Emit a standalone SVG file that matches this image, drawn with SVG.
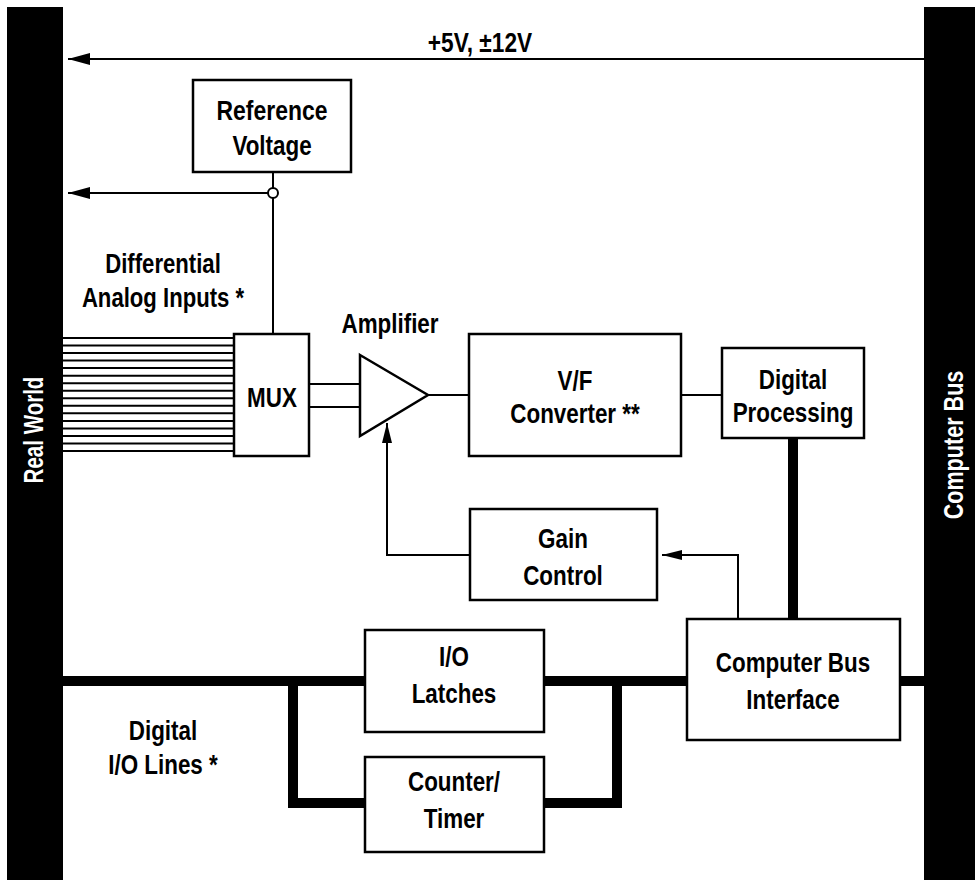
<svg xmlns="http://www.w3.org/2000/svg" width="975" height="880" viewBox="0 0 975 880">
<defs>
<style>
.box{fill:#fff;stroke:#000;stroke-width:2.5}
.thin{fill:none;stroke:#000;stroke-width:2}
.bus{fill:none;stroke:#000;stroke-width:10;stroke-linejoin:miter}
.t{font-family:"Liberation Sans Narrow","Liberation Sans",Arial,sans-serif;font-weight:bold;font-size:27px;text-anchor:middle;fill:#000}
.w{fill:#fff}
</style>
<marker id="arr" viewBox="0 0 22 12" markerUnits="userSpaceOnUse" markerWidth="22" markerHeight="12" refX="22" refY="6" orient="auto">
<path d="M0,0 L22,6 L0,12 z" fill="#000"/>
</marker>
<marker id="arrs" viewBox="0 0 20 10" markerUnits="userSpaceOnUse" markerWidth="20" markerHeight="10" refX="20" refY="5" orient="auto">
<path d="M0,0 L20,5 L0,10 z" fill="#000"/>
</marker>
</defs>
<rect width="975" height="880" fill="#fff"/>

<g id="real-world">
<rect x="7" y="7" width="56" height="873" fill="#000"/>
<text class="t w" transform="translate(43,430) rotate(-90) scale(.76,1)">Real World</text>
</g>
<g id="computer-bus">
<rect x="924" y="7" width="51" height="873" fill="#000"/>
<text class="t w" transform="translate(963,445) rotate(-90) scale(.8,1)">Computer Bus</text>
</g>

<g id="connectors">
<line class="thin" x1="924" y1="59" x2="68" y2="59" marker-end="url(#arr)"/>
<line class="thin" x1="268" y1="193" x2="68" y2="193" marker-end="url(#arr)"/>
<line class="thin" x1="273" y1="172" x2="273" y2="334"/>
<circle cx="273" cy="193" r="5" fill="#fff" stroke="#000" stroke-width="2"/>
<g class="thin">
<line x1="63" y1="338" x2="234" y2="338"/>
<line x1="63" y1="345.5" x2="234" y2="345.5"/>
<line x1="63" y1="353" x2="234" y2="353"/>
<line x1="63" y1="360.6" x2="234" y2="360.6"/>
<line x1="63" y1="368.1" x2="234" y2="368.1"/>
<line x1="63" y1="375.7" x2="234" y2="375.7"/>
<line x1="63" y1="383.2" x2="234" y2="383.2"/>
<line x1="63" y1="390.7" x2="234" y2="390.7"/>
<line x1="63" y1="398.3" x2="234" y2="398.3"/>
<line x1="63" y1="405.8" x2="234" y2="405.8"/>
<line x1="63" y1="413.3" x2="234" y2="413.3"/>
<line x1="63" y1="420.9" x2="234" y2="420.9"/>
<line x1="63" y1="428.4" x2="234" y2="428.4"/>
<line x1="63" y1="435.9" x2="234" y2="435.9"/>
<line x1="63" y1="443.5" x2="234" y2="443.5"/>
<line x1="63" y1="451" x2="234" y2="451"/>
</g>
<line class="thin" x1="309" y1="384" x2="360" y2="384"/>
<line class="thin" x1="309" y1="407" x2="360" y2="407"/>
<line class="thin" x1="428" y1="395" x2="469" y2="395"/>
<line class="thin" x1="681" y1="395" x2="722" y2="395"/>
<path class="thin" d="M470,555 H387 V423" marker-end="url(#arrs)"/>
<path class="thin" d="M738,619 V555 H662" marker-end="url(#arrs)"/>
<line class="bus" x1="793" y1="438" x2="793" y2="619"/>
<line class="bus" x1="63" y1="681" x2="687" y2="681"/>
<line class="bus" x1="900" y1="681" x2="924" y2="681"/>
<path class="bus" d="M293,681 V803 H365"/>
<path class="bus" d="M544,803 H617 V681"/>
</g>

<text class="t" transform="translate(480,52) scale(.84,1)">+5V, ±12V</text>
<text class="t" transform="translate(163,273) scale(.82,1)">Differential</text>
<text class="t" transform="translate(163,307) scale(.82,1)">Analog Inputs *</text>
<text class="t" transform="translate(390,333) scale(.83,1)">Amplifier</text>
<text class="t" transform="translate(163,740) scale(.83,1)">Digital</text>
<text class="t" transform="translate(163,774) scale(.83,1)">I/O Lines *</text>

<g id="reference-voltage">
<rect class="box" x="193" y="80" width="158" height="92"/>
<text class="t" transform="translate(272,120) scale(.85,1)">Reference</text>
<text class="t" transform="translate(272,155) scale(.83,1)">Voltage</text>
</g>
<g id="mux">
<rect class="box" x="234" y="334" width="75" height="122"/>
<text class="t" transform="translate(272,407) scale(.83,1)">MUX</text>
</g>
<g id="amplifier">
<path d="M360,355 L428,395 L360,436 Z" fill="#fff" stroke="#000" stroke-width="2.5" stroke-linejoin="miter"/>
</g>
<g id="vf-converter">
<rect class="box" x="469" y="334" width="212" height="122"/>
<text class="t" transform="translate(575,390) scale(.83,1)">V/F</text>
<text class="t" transform="translate(575,423) scale(.83,1)">Converter **</text>
</g>
<g id="digital-processing">
<rect class="box" x="722" y="348" width="142" height="90"/>
<text class="t" transform="translate(793,389) scale(.83,1)">Digital</text>
<text class="t" transform="translate(793,422) scale(.83,1)">Processing</text>
</g>
<g id="gain-control">
<rect class="box" x="470" y="509" width="187" height="91"/>
<text class="t" transform="translate(563,548) scale(.83,1)">Gain</text>
<text class="t" transform="translate(563,585) scale(.83,1)">Control</text>
</g>
<g id="computer-bus-interface">
<rect class="box" x="687" y="619" width="213" height="121"/>
<text class="t" transform="translate(793,672) scale(.83,1)">Computer Bus</text>
<text class="t" transform="translate(793,709) scale(.83,1)">Interface</text>
</g>
<g id="io-latches">
<rect class="box" x="365" y="630" width="179" height="102"/>
<text class="t" transform="translate(454,666) scale(.83,1)">I/O</text>
<text class="t" transform="translate(454,703) scale(.83,1)">Latches</text>
</g>
<g id="counter-timer">
<rect class="box" x="365" y="757" width="179" height="95"/>
<text class="t" transform="translate(454,791) scale(.83,1)">Counter/</text>
<text class="t" transform="translate(454,828) scale(.83,1)">Timer</text>
</g>
</svg>
